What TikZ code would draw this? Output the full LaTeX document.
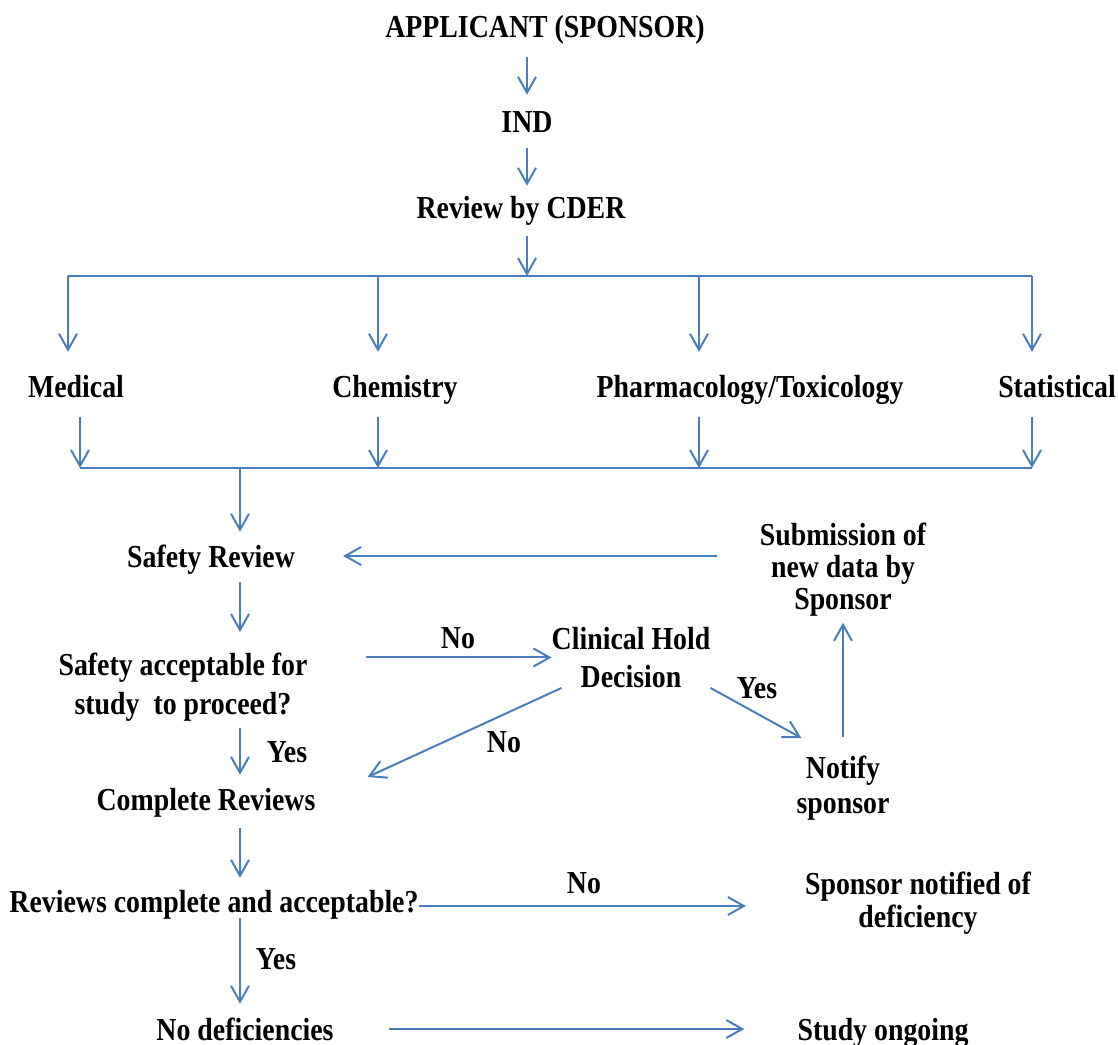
\documentclass[tikz,border=0pt]{standalone}
\usepackage{fontspec}
\setmainfont{Liberation Serif}[FakeStretch=0.87]
\usetikzlibrary{arrows.meta,calc}
\definecolor{flowblue}{HTML}{4A7EBB}

\begin{document}
\begin{tikzpicture}[x=1pt, y=-1pt,
    flow/.style={draw=flowblue, line width=2pt, -{Straight Barb[length=16pt,width=18pt]}},
    bus/.style={draw=flowblue, line width=2pt},
    txt/.style={inner sep=0pt, font=\fontsize{32}{36}\selectfont\bfseries, text height=22pt, text depth=0pt},
    para/.style={inner sep=0pt, align=center, anchor=north, font=\fontsize{32}{#1}\selectfont\bfseries}]
    \useasboundingbox (0,0) rectangle (1118,1044);

    % top chain
    \node[txt] (app) at (545,26) {APPLICANT (SPONSOR)};
    \node[txt] (ind) at (527,121) {IND};
    \node[txt] (cder) at (521,207) {Review by CDER};

    % review disciplines
    \node[txt] (med) at (76,386) {Medical};
    \node[txt] (chem) at (395,386) {Chemistry};
    \node[txt] (pharm) at (750,386) {Pharmacology/Toxicology};
    \node[txt] (stat) at (1057,386) {Statistical};

    % safety loop
    \node[txt] (safety) at (211,556) {Safety Review};
    \node[para=39] (accept) at (183,653) {Safety acceptable for\\study\ \ to proceed?};
    \node[para=38] (hold) at (631,627) {Clinical Hold\\Decision};
    \node[para=32] (submit) at (843,523) {Submission of\\new data by\\Sponsor};
    \node[para=35] (notify) at (843,756) {Notify\\sponsor};

    % completion
    \node[txt] (complete) at (206,799) {Complete Reviews};
    \node[txt] (revok) at (214,901) {Reviews complete and acceptable?};
    \node[para=33] (deficient) at (918,872) {Sponsor notified of\\deficiency};
    \node[txt] (nodef) at (245,1029) {No deficiencies};
    \node[txt] (ongoing) at (883,1029) {Study ongoing};

    % answers
    \node[txt] (no1) at (458,637) {No};
    \node[txt] (no2) at (504,741) {No};
    \node[txt] (yes1) at (757,687) {Yes};
    \node[txt] (yes2) at (287,751) {Yes};
    \node[txt] (no3) at (584,882) {No};
    \node[txt] (yes3) at (276,958) {Yes};

    \coordinate (bustop) at (527,276);
    \coordinate (bustopL) at (68,276);
    \coordinate (bustopR) at (1032,276);
    \coordinate (busbot) at (240,468);
    \coordinate (busbotL) at (80,468);
    \coordinate (busbotR) at (1032,468);

    \draw[flow, shorten <=20pt, shorten >=15pt] (app.south -| ind.north) -- (ind.north);
    \draw[flow, shorten <=16pt, shorten >=10pt] (ind.south) -- (ind.south |- cder.north);
    \draw[flow, shorten <=18pt] (cder.south -| bustop) -- (bustop);

    \draw[bus] (bustopL) -- (bustopR);
    \foreach \n/\x in {med/68,chem/378,pharm/699,stat/1032}
        \draw[flow, shorten >=23pt] (bustop -| \x,0) -- (\n.north -| \x,0);
    \foreach \n/\x in {med/80,chem/378,pharm/699,stat/1032}
        \draw[flow, shorten <=20pt] (\n.south -| \x,0) -- (busbot -| \x,0);
    \draw[bus] (busbotL) -- (busbotR);

    \draw[flow, shorten >=13pt] (busbot) -- (busbot |- safety.north);
    \draw[flow, shorten <=15pt, shorten >=21pt] (busbot |- safety.south) -- (busbot |- accept.north);
    \draw[flow, shorten <=58pt] (accept.east |- hold.west) -- (hold.west);
    \draw[flow] ([xshift=10pt]hold.south west) -- ([shift={(52,-22)}]complete.east);
    \draw[flow] (hold.south east) -- ([shift={(5,-18)}]notify.north west);
    \draw[flow, shorten <=19pt, shorten >=6pt] (notify.north) -- (submit.south);
    \draw[flow, shorten <=43pt, shorten >=48pt] (submit.west |- safety.east) -- (safety.east);

    \draw[flow, shorten <=6pt, shorten >=13pt] (accept.south -| busbot) -- (complete.north -| busbot);
    \draw[flow, shorten <=18pt, shorten >=12pt] (complete.south -| busbot) -- (revok.north -| busbot);
    \draw[flow, shorten >=59pt] ($(revok.east)+(0,5)$) -- ($(revok.east -| deficient.west)+(0,5)$);
    \draw[flow, shorten <=6pt, shorten >=14pt] (revok.south -| busbot) -- (nodef.north -| busbot);
    \draw[flow, shorten <=55pt, shorten >=53pt] (nodef.east) -- (nodef.east -| ongoing.west);
\end{tikzpicture}
\end{document}
